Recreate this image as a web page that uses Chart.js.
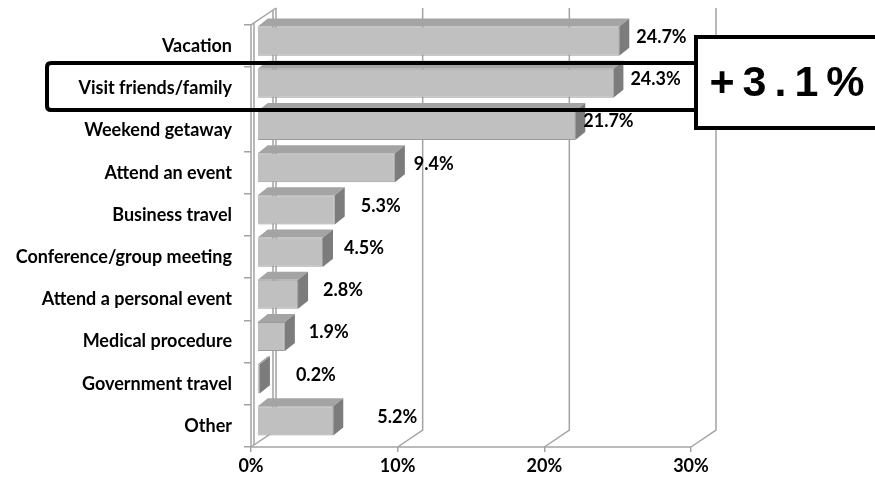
<!DOCTYPE html>
<html>
<head>
<meta charset="utf-8">
<script src="https://cdn.jsdelivr.net/npm/chart.js@4/dist/chart.umd.min.js"></script>
<style>
  html, body { margin: 0; padding: 0; background: #fff; }
  #wrap { width: 875px; height: 481px; position: relative; }
</style>
</head>
<body>
<div id="wrap"><canvas id="chart-motifs"></canvas></div>
<script>
// Motifs de voyage (part des réponses, en %)
const categories = [
  "Vacation",
  "Visit friends/family",
  "Weekend getaway",
  "Attend an event",
  "Business travel",
  "Conference/group meeting",
  "Attend a personal event",
  "Medical procedure",
  "Government travel",
  "Other"
];
const valeurs = [24.7, 24.3, 21.7, 9.4, 5.3, 4.5, 2.8, 1.9, 0.2, 5.2];
const ticksX = [0, 10, 20, 30];
const hausse = "+3.1%";

const FONT = "Lato, 'Open Sans', sans-serif";
const TAILLE = 18;

// Profondeur de la "boîte" 3D et des barres
const boite = { dx: 25, dy: -17 };
const decalBarre = { dx: 6, dy: -5 };
const epaisseur = { dx: 10, dy: -8 };
// petits écarts des étiquettes de valeur, comme dans le rapport d'origine
const ecartEtiquette = [7, 7, -2, 9, 16, 11, 15, 14, 26, 34];

const GRIS_GRILLE = "#a3a3a3";

const effet3D = {
  id: "effet3D",
  beforeDatasetsDraw(chart) {
    const { ctx, chartArea: a, scales } = chart;
    const sx = scales.x;
    ctx.save();
    ctx.strokeStyle = GRIS_GRILLE;
    ctx.lineWidth = 1.5;

    // mur du fond : lignes verticales + lignes du sol en biais
    ticksX.forEach(v => {
      const x = sx.getPixelForValue(v);
      ctx.beginPath();
      ctx.moveTo(x, a.bottom);
      ctx.lineTo(x + boite.dx, a.bottom + boite.dy);
      ctx.lineTo(x + boite.dx, a.top + boite.dy);
      ctx.stroke();
    });

    // mur de gauche (avec une petite épaisseur)
    const x0 = sx.getPixelForValue(0);
    ctx.beginPath();
    ctx.moveTo(x0, a.bottom);
    ctx.lineTo(x0, a.top);
    ctx.lineTo(x0 + boite.dx, a.top + boite.dy);
    ctx.moveTo(x0 + 3, a.bottom - 2);
    ctx.lineTo(x0 + 3, a.top - 2);
    ctx.moveTo(x0 + boite.dx - 3, a.top + boite.dy + 2);
    ctx.lineTo(x0 + boite.dx - 3, a.bottom + boite.dy + 2);
    ctx.stroke();

    // arête avant du sol
    ctx.beginPath();
    ctx.moveTo(a.left, a.bottom);
    ctx.lineTo(a.right, a.bottom);
    ctx.stroke();
    ctx.restore();

    // les barres sont dessinées un peu en retrait dans la profondeur
    ctx.save();
    ctx.translate(decalBarre.dx, decalBarre.dy);
  },
  afterDatasetsDraw(chart) {
    const { ctx } = chart;
    const meta = chart.getDatasetMeta(0);

    meta.data.forEach((barre, i) => {
      const { x, y, base, height } = barre.getProps(["x", "y", "base", "height"], true);
      const haut = y - height / 2;
      const bas = y + height / 2;

      // face du dessus
      ctx.beginPath();
      ctx.moveTo(base, haut);
      ctx.lineTo(x, haut);
      ctx.lineTo(x + epaisseur.dx, haut + epaisseur.dy);
      ctx.lineTo(base + epaisseur.dx, haut + epaisseur.dy);
      ctx.closePath();
      ctx.fillStyle = "#a4a4a4";
      ctx.fill();

      // face de côté
      ctx.beginPath();
      ctx.moveTo(x, haut);
      ctx.lineTo(x + epaisseur.dx, haut + epaisseur.dy);
      ctx.lineTo(x + epaisseur.dx, bas + epaisseur.dy);
      ctx.lineTo(x, bas);
      ctx.closePath();
      ctx.fillStyle = "#7c7c7c";
      ctx.fill();

      // étiquette de valeur
      ctx.fillStyle = "#000";
      ctx.font = "bold " + TAILLE + "px " + FONT;
      ctx.textAlign = "left";
      ctx.textBaseline = "middle";
      ctx.fillText(valeurs[i].toFixed(1) + "%", x + epaisseur.dx + ecartEtiquette[i], y - 4);
    });

    ctx.restore();
  },
  afterDraw(chart) {
    const { ctx } = chart;
    ctx.save();
    ctx.strokeStyle = "#000";
    ctx.lineWidth = 4;

    // cadre autour de "Visit friends/family"
    ctx.beginPath();
    ctx.moveTo(696, 63);
    ctx.lineTo(51, 63);
    ctx.quadraticCurveTo(47, 63, 47, 67);
    ctx.lineTo(47, 106);
    ctx.quadraticCurveTo(47, 110, 51, 110);
    ctx.lineTo(696, 110);
    ctx.stroke();

    // encadré de la hausse
    ctx.fillStyle = "#fff";
    ctx.fillRect(696, 37, 190, 91);
    ctx.strokeRect(696, 37, 190, 91);

    ctx.fillStyle = "#000";
    ctx.font = "bold 43px 'Liberation Sans', Arial, sans-serif";
    ctx.letterSpacing = "8px";
    ctx.textAlign = "center";
    ctx.textBaseline = "middle";
    ctx.fillText(hausse, 791, 84);
    ctx.restore();
  }
};

new Chart(document.getElementById("chart-motifs"), {
  type: "bar",
  data: {
    labels: categories,
    datasets: [{
      data: valeurs,
      backgroundColor: "#c0c0c0",
      borderColor: "#9c9c9c",
      borderWidth: 1,
      categoryPercentage: 1,
      barPercentage: 0.69,
      clip: false
    }]
  },
  options: {
    indexAxis: "y",
    responsive: true,
    maintainAspectRatio: false,
    animation: false,
    layout: {
      padding: { top: 25, right: 184, bottom: 0, left: 0 }
    },
    scales: {
      x: {
        min: 0,
        max: 30,
        afterFit: s => { s.height = 34; },
        border: { display: false },
        grid: { drawOnChartArea: false, tickLength: 5, color: GRIS_GRILLE, lineWidth: 1.5 },
        ticks: {
          stepSize: 10,
          padding: 3,
          color: "#000",
          font: { family: FONT, size: TAILLE, weight: "bold" },
          callback: v => v + "%"
        }
      },
      y: {
        afterFit: s => { s.width = 251; },
        border: { display: false },
        grid: { drawOnChartArea: false, tickLength: 7, color: GRIS_GRILLE, lineWidth: 1.5 },
        ticks: {
          padding: 12,
          color: "#000",
          font: { family: FONT, size: TAILLE, weight: "bold" }
        }
      }
    },
    plugins: {
      legend: { display: false },
      tooltip: { enabled: false }
    }
  },
  plugins: [effet3D]
});
</script>
</body>
</html>
